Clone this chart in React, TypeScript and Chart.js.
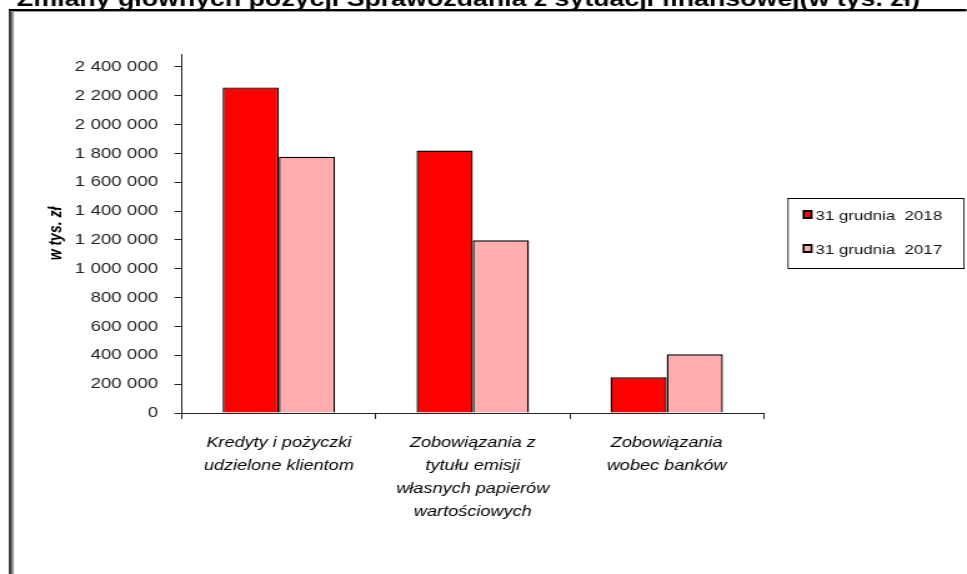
import React, { useEffect, useRef } from "react";
import { Chart, registerables } from "chart.js";

Chart.register(...registerables);

const TITLE = "Zmiany głównych pozycji Sprawozdania z sytuacji finansowej(w tys. zł)";
const categories: string[][] = [
  ["Kredyty i pożyczki", "udzielone klientom"],
  ["Zobowiązania z", "tytułu emisji", "własnych papierów", "wartościowych"],
  ["Zobowiązania", "wobec banków"],
];
const seriesLabels = ["31 grudnia  2018", "31 grudnia  2017"];
const values2018 = [2258000, 1820000, 248000];
const values2017 = [1778000, 1198000, 407000];
const yTickValues = [0, 200000, 400000, 600000, 800000, 1000000, 1200000, 1400000, 1600000, 1800000, 2000000, 2200000, 2400000];
const yAxisTitle = "w tys. zł";
const yMax = 2490000;

const colors = ["#FF0000", "#FFADAF"];

// the reference picture is stretched horizontally; draw narrower and stretch with CSS
const S = 1.25;
const CSS_W = 967;
const CSS_H = 574;
const CANVAS_W = Math.round(CSS_W / S);

const FONT = "'Liberation Sans', Arial, sans-serif";

function fmt(v: number): string {
  const s = Math.round(v).toString();
  return s.replace(/\B(?=(\d{3})+(?!\d))/g, " ");
}

const decorPlugin = {
  id: "decor",
  afterDraw(chart: any) {
    const ctx = chart.ctx as CanvasRenderingContext2D;
    ctx.save();
    // title (cut off at the top edge)
    ctx.fillStyle = "#000";
    ctx.font = `bold 21.4px ${FONT}`;
    ctx.textAlign = "left";
    ctx.textBaseline = "alphabetic";
    ctx.fillText(TITLE, 17 / S, 6);

    // legend text (stretched like the rest)
    ctx.font = `13.5px ${FONT}`;
    ctx.textBaseline = "middle";
    chart.data.datasets.forEach((ds: any, i: number) => {
      const cy = 215 + i * 34;
      ctx.fillStyle = "#111";
      ctx.fillText(ds.label, 816 / S, cy + 1);
    });

    // frame and legend box drawn in CSS pixel coordinates
    ctx.scale(1 / S, 1);
    ctx.fillStyle = "#000";
    ctx.fillRect(9, 9, 958, 2);
    ctx.fillRect(9, 9, 2, 565);
    ctx.fillStyle = "#9a9a9a";
    ctx.fillRect(11, 11, 956, 1);
    ctx.fillRect(11, 11, 1, 563);
    ctx.fillStyle = "#000";
    ctx.fillRect(12, 12, 1, 562);
    ctx.fillStyle = "#b0b0b0";
    ctx.fillRect(13, 12, 1, 562);

    ctx.fillStyle = "#000";
    const lx = 788, ly = 198, lw = 176, lh = 70;
    ctx.fillRect(lx, ly, lw, 1);
    ctx.fillRect(lx, ly + lh, lw + 1, 1);
    ctx.fillRect(lx, ly, 1, lh);
    ctx.fillRect(lx + lw, ly, 1, lh);
    chart.data.datasets.forEach((ds: any, i: number) => {
      const cy = 215 + i * 34;
      ctx.fillStyle = "#000";
      ctx.fillRect(803, cy - 5, 10, 9);
      ctx.fillStyle = ds.backgroundColor;
      ctx.fillRect(805, cy - 3, 6, 5);
    });
    ctx.restore();
  },
};

export default function App() {
  const ref = useRef<HTMLCanvasElement | null>(null);
  useEffect(() => {
    if (!ref.current) return;
    const chart = new Chart(ref.current, {
      type: "bar",
      data: {
        labels: categories,
        datasets: [
          {
            label: seriesLabels[0],
            data: values2018,
            backgroundColor: colors[0],
            borderColor: "#000",
            borderWidth: 1.4,
            categoryPercentage: 0.58,
            barPercentage: 1.0,
          },
          {
            label: seriesLabels[1],
            data: values2017,
            backgroundColor: colors[1],
            borderColor: "#000",
            borderWidth: 1.4,
            categoryPercentage: 0.58,
            barPercentage: 1.0,
          },
        ],
      },
      options: {
        animation: false,
        responsive: false,
        maintainAspectRatio: false,
        layout: { padding: { left: 0, right: CANVAS_W - 764 / S, top: 54, bottom: 0 } },
        plugins: {
          legend: { display: false },
          tooltip: { enabled: false },
          title: { display: false },
        },
        scales: {
          x: {
            offset: true,
            grid: {
              offset: true,
              drawOnChartArea: false,
              drawTicks: true,
              tickLength: 6,
              color: "#222",
            },
            border: { display: true, color: "#222", width: 1 },
            ticks: {
              color: "#000",
              padding: 12,
              font: { family: FONT, size: 14.5, style: "italic", lineHeight: "23px" as any },
              maxRotation: 0,
              autoSkip: false,
            },
            afterFit(scale: any) {
              scale.height = 161;
            },
          },
          y: {
            min: 0,
            max: yMax,
            grid: {
              drawOnChartArea: false,
              drawTicks: true,
              tickLength: 6,
              color: "#222",
            },
            border: { display: true, color: "#222", width: 1 },
            ticks: {
              padding: 13,
              color: "#222",
              font: { family: FONT, size: 15 },
              callback: (v: any) => fmt(Number(v)),
            },
            afterBuildTicks(scale: any) {
              scale.ticks = yTickValues.map((v) => ({ value: v }));
            },
            title: {
              display: true,
              text: yAxisTitle,
              color: "#000",
              font: { family: FONT, size: 14, weight: "bold", style: "italic" },
              padding: { top: 37, bottom: 0 },
            },
            afterFit(scale: any) {
              scale.width = 182 / S;
            },
          },
        },
      },
      plugins: [decorPlugin],
    });
    return () => chart.destroy();
  }, []);
  return (
    <div style={{ position: "fixed", left: 0, top: 0, width: CSS_W, height: CSS_H, background: "#fff", overflow: "hidden" }}>
      <canvas
        ref={ref}
        width={CANVAS_W}
        height={CSS_H}
        style={{ display: "block", width: CSS_W + "px", height: CSS_H + "px" }}
      />
    </div>
  );
}
